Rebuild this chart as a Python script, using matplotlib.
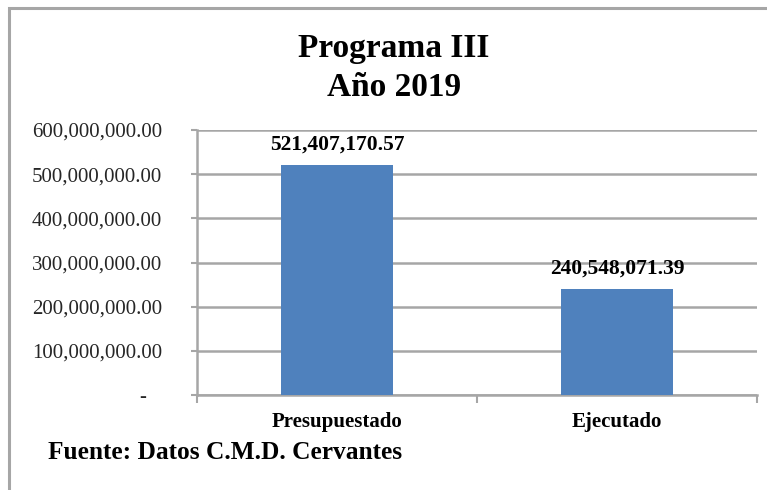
import matplotlib
matplotlib.use("Agg")
import matplotlib.pyplot as plt
from matplotlib.patches import Rectangle

categories = ["Presupuestado", "Ejecutado"]
values = [521407170.57, 240548071.39]
yticks = [0, 100000000, 200000000, 300000000, 400000000, 500000000, 600000000]

plt.rcParams["font.family"] = ["Liberation Serif", "DejaVu Serif"]

W, H = 767, 490
fig = plt.figure(figsize=(W / 100, H / 100), dpi=100)

# outer frame of the chart
fig.patches.append(Rectangle((9 / W, -0.1), 1.1, 1 - 8 / H + 0.1, transform=fig.transFigure,
                             fill=False, edgecolor="#A6A6A6", linewidth=2.2))

ax = fig.add_axes([197 / W, 95 / H, 560 / W, 265 / H])
x = list(range(len(categories)))
ax.bar(x, values, width=0.4, color="#4F81BD", zorder=3)
ax.set_xlim(-0.5, 1.5)
ax.set_ylim(0, 600000000)

ax.set_yticks(yticks)
ax.set_yticklabels(["-   " if v == 0 else f"{v:,.2f}" for v in yticks], fontsize=15, color="#262626")
ax.tick_params(axis="y", length=4, width=1.5, color="#A6A6A6", pad=21)
ax.grid(axis="y", color="#A6A6A6", linewidth=1.8, zorder=0)

ax.set_xticks([-0.5, 0.5, 1.5], minor=False)
ax.set_xticklabels([])
ax.set_xticks(x, minor=True)
ax.set_xticklabels(categories, minor=True, fontsize=15, fontweight="bold")
ax.tick_params(axis="x", which="major", length=6, width=1.5, color="#A6A6A6")
ax.tick_params(axis="x", which="minor", length=0, pad=12)

for s in ["top", "right"]:
    ax.spines[s].set_visible(False)
for s in ["left", "bottom"]:
    ax.spines[s].set_color("#A6A6A6")
    ax.spines[s].set_linewidth(1.8)

for xi, v in zip(x, values):
    ax.annotate(f"{v:,.2f}", (xi, v), xytext=(0, 7), textcoords="offset points",
                ha="center", va="bottom", fontsize=15.5, fontweight="bold")

fig.text(394 / W, 1 - 68 / H, "Programa III\nAño 2019", ha="center", va="center",
         fontsize=24, fontweight="bold", linespacing=1.35)
fig.text(48 / W, 1 - 452 / H, "Fuente: Datos C.M.D. Cervantes", ha="left", va="center",
         fontsize=18.3, fontweight="bold")

fig.savefig("out.png", dpi=100)
